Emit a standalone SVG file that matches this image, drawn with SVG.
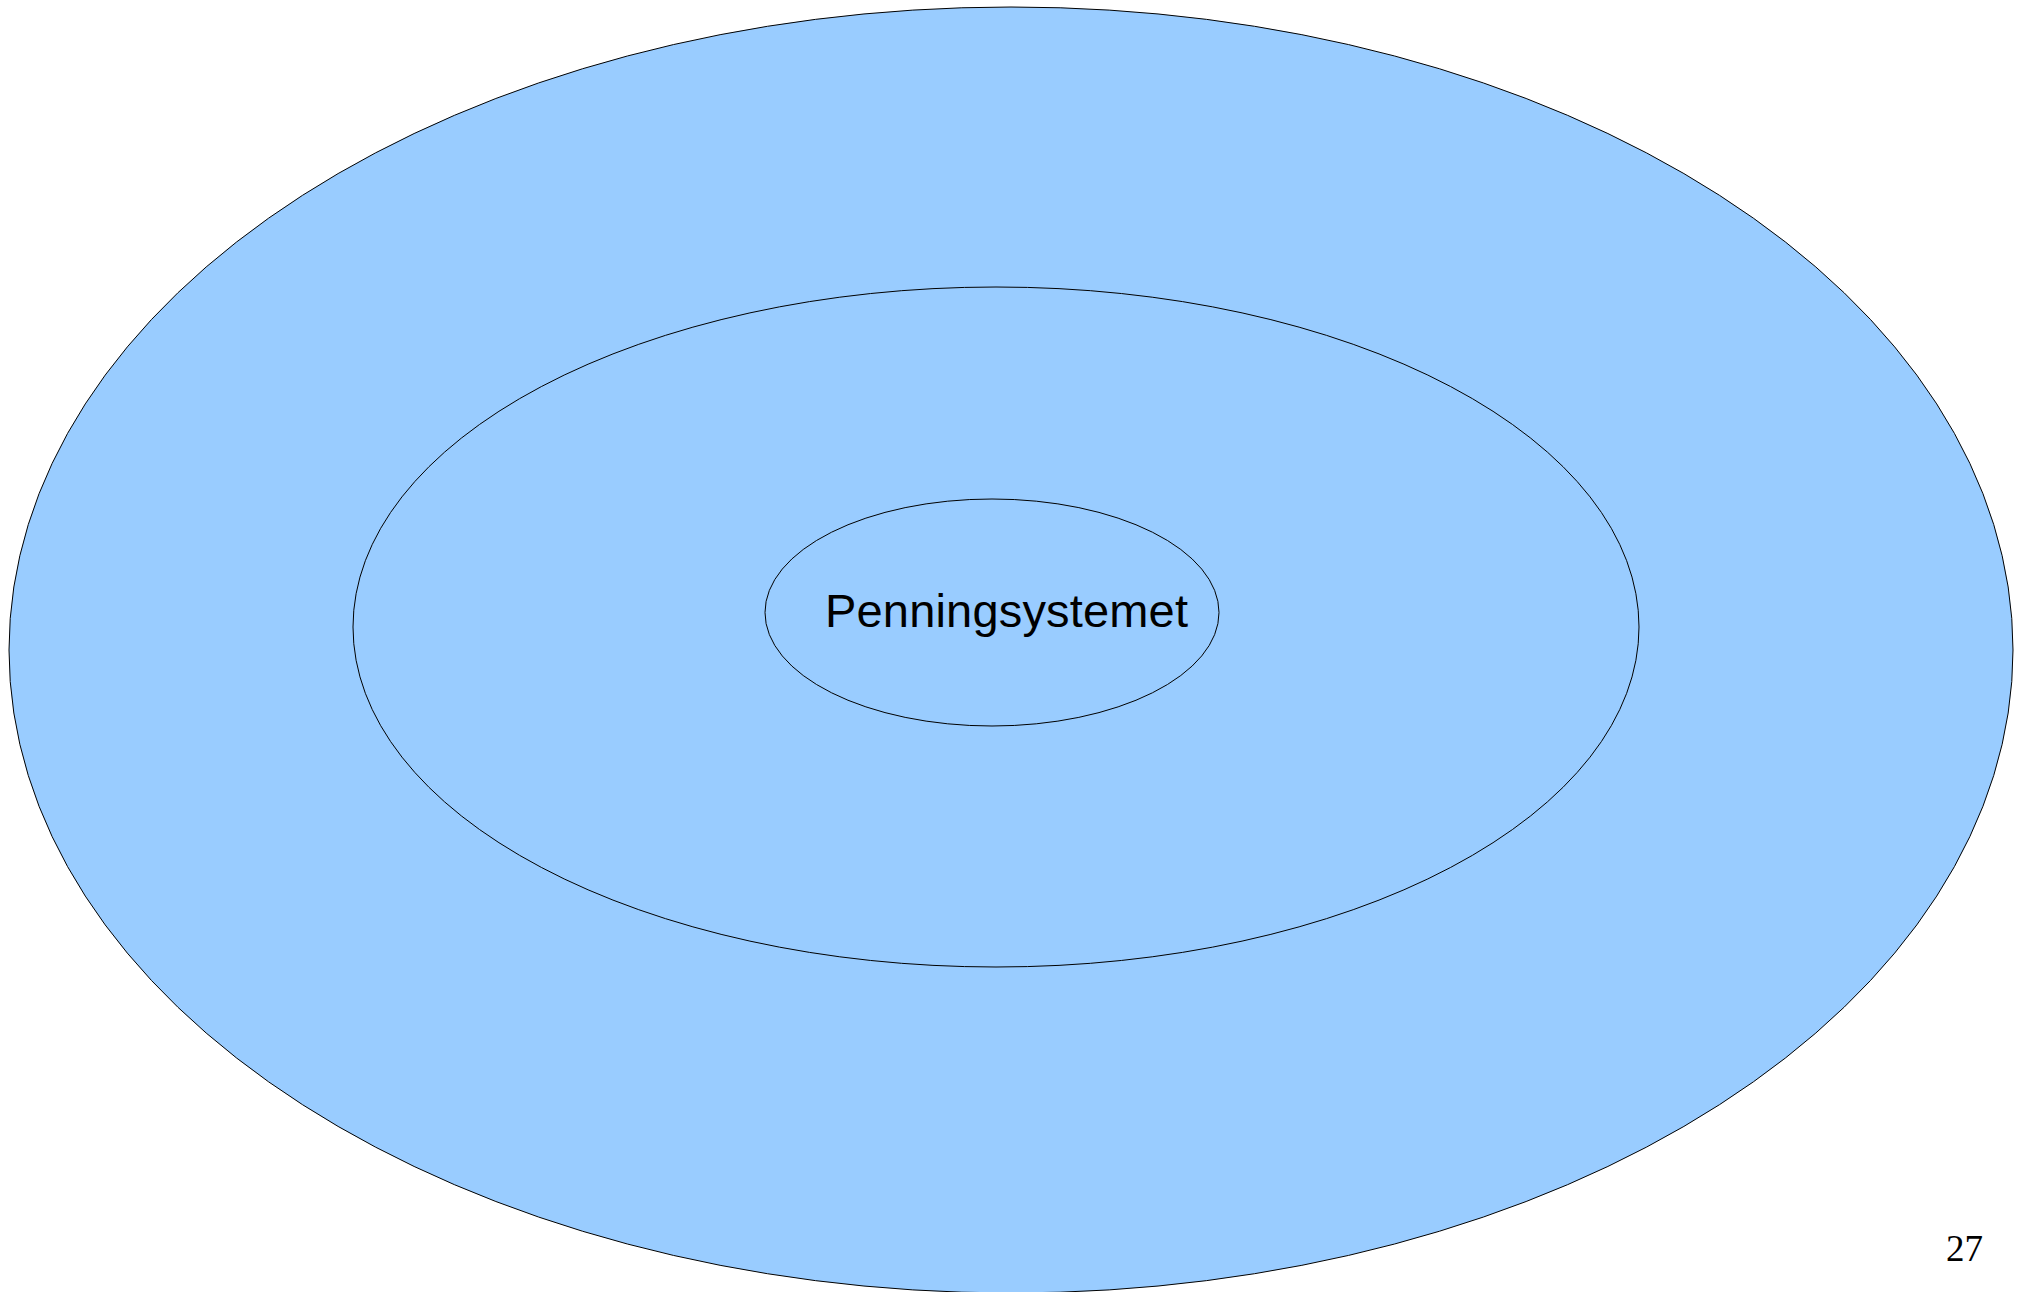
<svg xmlns="http://www.w3.org/2000/svg" width="2027" height="1292" viewBox="0 0 2027 1292">
<style>
.ring{fill:#99ccff;stroke:#000;stroke-width:1}
.lbl{font-family:"Liberation Sans",Arial,sans-serif;font-size:47px;fill:#000}
.num{font-family:"Liberation Serif","Times New Roman",serif;font-size:37px;fill:#000}
</style>
<rect width="2027" height="1292" fill="#fff"/>
<g id="outer"><ellipse class="ring" cx="1011" cy="650" rx="1002" ry="643"/></g>
<g id="middle"><ellipse class="ring" cx="996" cy="627" rx="643" ry="340"/></g>
<g id="inner"><ellipse class="ring" cx="992" cy="612.5" rx="227" ry="113.5"/>
<text class="lbl" x="825" y="627" textLength="363">Penningsystemet</text></g>
<g id="connectors"/>
<text class="num" x="1946" y="1261">27</text>
</svg>
